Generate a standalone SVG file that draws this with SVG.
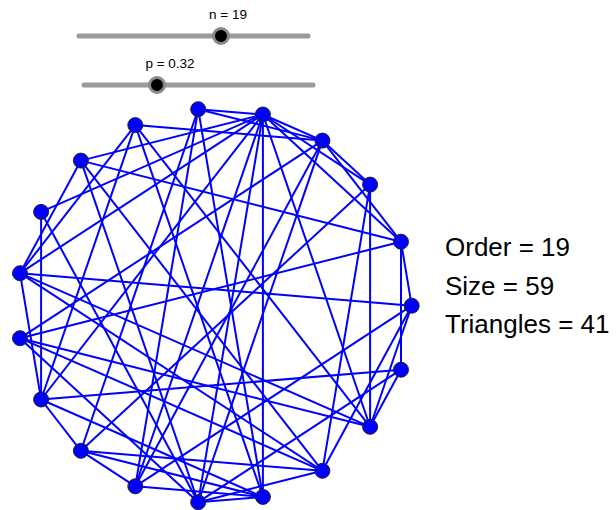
<svg xmlns="http://www.w3.org/2000/svg" width="616" height="510" viewBox="0 0 616 510">
<style>
.e{stroke:#0000ff;stroke-width:2;fill:none}
.n{fill:#0000ff;stroke:#222;stroke-width:1}
.t{font-family:"Liberation Sans",Arial,sans-serif;fill:#000}
.track{stroke:#9a9a9a;stroke-width:5;stroke-linecap:round}
.knob{fill:#000;stroke:#8a8a8a;stroke-width:3}
</style>
<rect width="616" height="510" fill="#fff"/>
<g id="slider-n">
<line class="track" x1="79" y1="36" x2="308" y2="36"/>
<circle class="knob" cx="221" cy="36" r="7.5"/>
<text class="t" x="228" y="19" font-size="13.5" text-anchor="middle">n = 19</text>
</g>
<g id="slider-p">
<line class="track" x1="84" y1="85" x2="313" y2="85"/>
<circle class="knob" cx="157" cy="85" r="7.5"/>
<text class="t" x="170" y="68" font-size="13.5" text-anchor="middle">p = 0.32</text>
</g>
<g id="edges">
<line class="e" x1="198.2" y1="109.2" x2="262.9" y2="114.5"/>
<line class="e" x1="198.2" y1="109.2" x2="322.4" y2="140.6"/>
<line class="e" x1="198.2" y1="109.2" x2="262.9" y2="496.9"/>
<line class="e" x1="198.2" y1="109.2" x2="135.3" y2="486.3"/>
<line class="e" x1="198.2" y1="109.2" x2="80.9" y2="450.8"/>
<line class="e" x1="262.9" y1="114.5" x2="322.4" y2="140.6"/>
<line class="e" x1="262.9" y1="114.5" x2="370.1" y2="184.6"/>
<line class="e" x1="262.9" y1="114.5" x2="401.0" y2="241.7"/>
<line class="e" x1="262.9" y1="114.5" x2="370.1" y2="426.8"/>
<line class="e" x1="262.9" y1="114.5" x2="262.9" y2="496.9"/>
<line class="e" x1="262.9" y1="114.5" x2="198.2" y2="502.2"/>
<line class="e" x1="262.9" y1="114.5" x2="135.3" y2="486.3"/>
<line class="e" x1="262.9" y1="114.5" x2="41.1" y2="399.5"/>
<line class="e" x1="262.9" y1="114.5" x2="20.0" y2="273.2"/>
<line class="e" x1="262.9" y1="114.5" x2="41.1" y2="211.9"/>
<line class="e" x1="262.9" y1="114.5" x2="80.9" y2="160.6"/>
<line class="e" x1="322.4" y1="140.6" x2="370.1" y2="184.6"/>
<line class="e" x1="322.4" y1="140.6" x2="401.0" y2="241.7"/>
<line class="e" x1="322.4" y1="140.6" x2="135.3" y2="486.3"/>
<line class="e" x1="322.4" y1="140.6" x2="20.0" y2="338.2"/>
<line class="e" x1="322.4" y1="140.6" x2="135.3" y2="125.1"/>
<line class="e" x1="322.4" y1="140.6" x2="198.2" y2="502.2"/>
<line class="e" x1="370.1" y1="184.6" x2="370.1" y2="426.8"/>
<line class="e" x1="370.1" y1="184.6" x2="322.4" y2="470.8"/>
<line class="e" x1="370.1" y1="184.6" x2="80.9" y2="450.8"/>
<line class="e" x1="401.0" y1="241.7" x2="411.7" y2="305.7"/>
<line class="e" x1="401.0" y1="241.7" x2="401.0" y2="369.7"/>
<line class="e" x1="401.0" y1="241.7" x2="20.0" y2="338.2"/>
<line class="e" x1="401.0" y1="241.7" x2="80.9" y2="160.6"/>
<line class="e" x1="411.7" y1="305.7" x2="370.1" y2="426.8"/>
<line class="e" x1="411.7" y1="305.7" x2="135.3" y2="486.3"/>
<line class="e" x1="411.7" y1="305.7" x2="20.0" y2="273.2"/>
<line class="e" x1="411.7" y1="305.7" x2="322.4" y2="470.8"/>
<line class="e" x1="401.0" y1="369.7" x2="370.1" y2="426.8"/>
<line class="e" x1="401.0" y1="369.7" x2="198.2" y2="502.2"/>
<line class="e" x1="401.0" y1="369.7" x2="41.1" y2="399.5"/>
<line class="e" x1="370.1" y1="426.8" x2="20.0" y2="338.2"/>
<line class="e" x1="370.1" y1="426.8" x2="20.0" y2="273.2"/>
<line class="e" x1="370.1" y1="426.8" x2="135.3" y2="125.1"/>
<line class="e" x1="322.4" y1="470.8" x2="198.2" y2="502.2"/>
<line class="e" x1="322.4" y1="470.8" x2="80.9" y2="450.8"/>
<line class="e" x1="322.4" y1="470.8" x2="20.0" y2="338.2"/>
<line class="e" x1="322.4" y1="470.8" x2="80.9" y2="160.6"/>
<line class="e" x1="262.9" y1="496.9" x2="198.2" y2="502.2"/>
<line class="e" x1="262.9" y1="496.9" x2="135.3" y2="486.3"/>
<line class="e" x1="262.9" y1="496.9" x2="41.1" y2="399.5"/>
<line class="e" x1="262.9" y1="496.9" x2="135.3" y2="125.1"/>
<line class="e" x1="262.9" y1="496.9" x2="80.9" y2="450.8"/>
<line class="e" x1="198.2" y1="502.2" x2="20.0" y2="338.2"/>
<line class="e" x1="198.2" y1="502.2" x2="41.1" y2="211.9"/>
<line class="e" x1="198.2" y1="502.2" x2="80.9" y2="160.6"/>
<line class="e" x1="41.1" y1="399.5" x2="20.0" y2="273.2"/>
<line class="e" x1="41.1" y1="399.5" x2="41.1" y2="211.9"/>
<line class="e" x1="41.1" y1="399.5" x2="135.3" y2="125.1"/>
<line class="e" x1="20.0" y1="273.2" x2="80.9" y2="160.6"/>
<line class="e" x1="20.0" y1="273.2" x2="135.3" y2="125.1"/>
<line class="e" x1="135.3" y1="486.3" x2="80.9" y2="450.8"/>
<line class="e" x1="80.9" y1="450.8" x2="41.1" y2="399.5"/>
<line class="e" x1="20.0" y1="273.2" x2="322.4" y2="470.8"/>
</g>
<g id="nodes">
<circle id="v1" class="n" cx="198.2" cy="109.2" r="7.5"/>
<circle id="v2" class="n" cx="262.9" cy="114.5" r="7.5"/>
<circle id="v3" class="n" cx="322.4" cy="140.6" r="7.5"/>
<circle id="v4" class="n" cx="370.1" cy="184.6" r="7.5"/>
<circle id="v5" class="n" cx="401.0" cy="241.7" r="7.5"/>
<circle id="v6" class="n" cx="411.7" cy="305.7" r="7.5"/>
<circle id="v7" class="n" cx="401.0" cy="369.7" r="7.5"/>
<circle id="v8" class="n" cx="370.1" cy="426.8" r="7.5"/>
<circle id="v9" class="n" cx="322.4" cy="470.8" r="7.5"/>
<circle id="v10" class="n" cx="262.9" cy="496.9" r="7.5"/>
<circle id="v11" class="n" cx="198.2" cy="502.2" r="7.5"/>
<circle id="v12" class="n" cx="135.3" cy="486.3" r="7.5"/>
<circle id="v13" class="n" cx="80.9" cy="450.8" r="7.5"/>
<circle id="v14" class="n" cx="41.1" cy="399.5" r="7.5"/>
<circle id="v15" class="n" cx="20.0" cy="338.2" r="7.5"/>
<circle id="v16" class="n" cx="20.0" cy="273.2" r="7.5"/>
<circle id="v17" class="n" cx="41.1" cy="211.9" r="7.5"/>
<circle id="v18" class="n" cx="80.9" cy="160.6" r="7.5"/>
<circle id="v19" class="n" cx="135.3" cy="125.1" r="7.5"/>
</g>
<g id="stats">
<text class="t" x="445" y="256" font-size="26">Order = 19</text>
<text class="t" x="445" y="295" font-size="26">Size = 59</text>
<text class="t" x="445" y="333" font-size="26">Triangles = 41</text>
</g>
</svg>
